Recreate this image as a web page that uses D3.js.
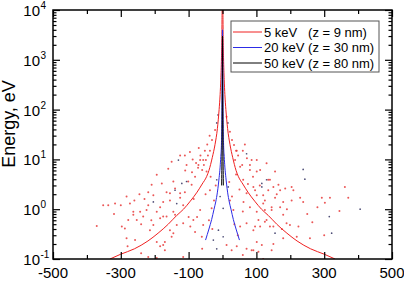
<!DOCTYPE html>
<html>
<head>
<meta charset="utf-8">
<script src="https://cdn.jsdelivr.net/npm/d3@7"></script>
<style>
  html, body { margin: 0; padding: 0; background: #fff; }
  svg { display: block; font-family: "Liberation Sans", Arial, sans-serif; }
</style>
</head>
<body>
<div id="chart"></div>
<script>
// tick labels
const xTickLabels = [-500, -300, -100, 100, 300, 500];
const xMinorTicks = [-400, -200, 0, 200, 400];
const yDecades = [-1, 0, 1, 2, 3, 4];

const seriesLabels = ["5 keV   (z = 9 nm)", "20 keV (z = 30 nm)", "50 keV (z = 80 nm)"];
const seriesColors = ["#f02020", "#2c2ce6", "#000000"];

// 5 keV curve (x in nm, energy in eV)
const redX = [-332, -300, -260, -220, -190, -160, -135, -115, -95, -75, -60, -47, -40, -30, -22, -15, -10, -7, -5, -3, -2, -1,
              1, 2, 3, 5, 7, 10, 15, 22, 30, 40, 47, 60, 75, 95, 115, 135, 160, 190, 220, 260, 300, 332];
const redE = [0.1, 0.125, 0.16, 0.23, 0.33, 0.5, 0.75, 1.0, 1.45, 2.2, 3.2, 4.5, 6, 11, 20, 42, 100, 200, 400, 1100, 2500, 10000,
              10000, 2500, 1100, 400, 200, 100, 42, 20, 11, 6, 4.5, 3.2, 2.2, 1.45, 1.0, 0.75, 0.5, 0.33, 0.23, 0.16, 0.125, 0.1];

// 20 keV curve
const blueX = [-50, -40, -32, -25, -20, -15, -12, -10, -7, -5, -3, -2, -1.5, -1, 0,
               1, 1.5, 2, 3, 5, 7, 10, 12, 15, 20, 25, 32, 40, 50];
const blueE = [0.24, 0.4, 0.62, 1.0, 1.4, 2.2, 3.2, 4.3, 7, 11.5, 22, 50, 150, 600, 4000,
               600, 150, 50, 22, 11.5, 7, 4.3, 3.2, 2.2, 1.4, 1.0, 0.62, 0.4, 0.24];

// 50 keV curve
const blackX = [-2.5, -2, -1.5, -1, -0.5, 0, 0.5, 1, 1.5, 2, 2.5];
const blackE = [3, 6, 15, 60, 400, 3000, 400, 60, 15, 6, 3];

// scattered points (x, energy)
const scatterRed = [
  [-106,7.7],[-194,4.9],[-209,3.1],[-179,3.3],[-145,3.6],[-101,3.6],[-283,1.8],[-273,1.3],[-352,1.2],[-337,1.2],
  [-317,1.3],[-219,2.2],[-204,1.9],[-165,2.2],[-125,2.1],[-111,2.2],[-175,1.4],[-155,1.5],[-116,1.2],[-219,1.2],
  [-243,0.89],[-263,0.77],[-278,0.61],[-253,0.61],[-234,0.71],[-194,0.89],[-184,0.66],[-165,0.71],[-140,0.77],[-297,0.45],
  [-371,0.46],[-288,0.41],[-204,0.48],[-214,0.38],[-155,0.38],[-135,0.48],[-283,0.26],[-258,0.24],[-194,0.22],[-150,0.28],
  [-175,0.19],[-184,0.18],[-170,0.15],[-219,0.11],[-194,0.105],[-116,0.11],[-111,12],[-263,0.89],
  [361,2.8],[371,1.7],[293,1.7],[317,1.7],[302,1.35],[345,0.92],[209,2.4],[204,2.8],[165,3.1],[170,2.4],
  [140,3.9],[111,6.1],[101,5.7],[86,9.7],[81,7.7],[91,2.8],[135,2.4],[120,1.9],[101,1.9],[155,1.7],
  [179,1.4],[204,1.5],[229,1.7],[238,1.4],[170,1.1],[145,0.96],[125,0.96],[179,0.77],[106,0.61],[125,0.56],
  [189,0.52],[199,0.48],[140,0.45],[96,0.45],[224,0.45],[179,0.26],[101,0.22],[116,0.19],[86,0.15],[106,0.14],
  [145,0.15],[120,0.10],[219,0.28],[258,0.26],
  [-125,12],[-96,14],[-71,7.7],[-57,9.7],[-47,5.7],[-81,4.5],[-91,3.1],[-140,2.6],[-155,2.1],[-125,1.7],
  [-184,1.1],[-224,0.96],[-175,0.71],[-145,0.89],[-116,0.52],[-86,0.61],[-66,0.96],[-57,0.48],[-81,0.35],[-145,0.33],
  [-170,0.22],[-61,0.28],[12,0.19],[27,0.15],[42,0.18],[71,0.16],[91,0.15],[52,0.45],[71,0.52],[91,0.38],
  [111,0.45],[130,0.61],[150,0.45],[81,1.1],[101,0.89],[120,1.3],[145,1.1],[71,2.1],[96,2.4],[135,3.9],
  [150,2.8],[61,3.9],[52,7.1],[37,9.7],[81,6.1],[101,9.7],[130,8.4],[155,5.7],[42,15],[22,1.5],
  [-32,1.04],[-37,2.4],[32,0.96],
  [-31,24.5],[-37,15],[-43,12],[-49,9.7],[-55,7.7],[-60,6.1],[28,24.5],[34,19.5],[40,15],[46,12],
  [58,7.7],[-66,9.7],[-72,6.8],[60,15],[72,10.5],[12,72],[-22,39],[22,36],
  [-90,5.5],[-78,8.5],[-65,12],[-52,15],[-45,20],[-38,30],[-110,6],[-150,9],[-160,6.5],[-230,1.6],
  [-245,2.0],[-260,1.5],[-300,1.2],[-320,0.8],[-240,0.5],[-210,0.6],[-100,0.7],[-95,0.45],[-75,0.7],[-40,0.6],
  [-30,0.4],[-25,1.5],[-20,3],[20,3.5],[28,1.8],[35,0.5],[45,0.3],[60,0.9],[62,1.4],[75,3.2],
  [90,4.5],[110,3],[125,1.5],[160,2],[175,0.4],[190,1.0],[250,0.8],[265,0.55],[280,1.1],[300,0.3],
  [-280,0.18],[-240,0.13],[-60,0.16],[60,0.12],[150,0.2],[185,2.6],[-50,2],[-85,1.6],[50,2.5],[40,5],
  [-35,4.5],[66,20],[-70,17],[-88,10]
];
const scatterDark = [
  [-130,9.7],[-120,3.3],[-140,2.4],[-135,1.3],[238,6.3],[243,4.0],[406,1.0],[315,0.71],[322,0.33],[130,3.9],
  [116,2.8],[155,0.33],[-106,3.6],[-204,1.4],[-27,0.24],[-17,0.16],[116,3.3],[71,13],[-7,1.8],[2,1.04],
  [-12,0.38],[2,0.28],[-17,3.9],[17,2.8],[-13,78],[16,54],[-17,54]
];

const W = 404, H = 281;
const plot = { left: 53, right: 392, top: 10, bottom: 259 };

const svg = d3.select("#chart").append("svg")
  .attr("width", W)
  .attr("height", H);

const x = d3.scaleLinear().domain([-500, 500]).range([plot.left, plot.right]);
const y = d3.scaleLog().domain([0.1, 1e4]).range([plot.bottom, plot.top]);

svg.append("clipPath").attr("id", "clip")
  .append("rect")
  .attr("x", plot.left).attr("y", plot.top)
  .attr("width", plot.right - plot.left).attr("height", plot.bottom - plot.top);

const data = svg.append("g").attr("clip-path", "url(#clip)");

// scatter first, curves on top
data.selectAll("circle.red")
  .data(scatterRed)
  .enter().append("circle")
  .attr("class", "red")
  .attr("cx", d => x(d[0]))
  .attr("cy", d => y(d[1]))
  .attr("r", 1)
  .attr("fill", "#e83a3a")
  .attr("opacity", 0.85);

data.selectAll("circle.dark")
  .data(scatterDark)
  .enter().append("circle")
  .attr("class", "dark")
  .attr("cx", d => x(d[0]))
  .attr("cy", d => y(d[1]))
  .attr("r", 0.85)
  .attr("fill", "#222255")
  .attr("opacity", 0.8);

const line = d3.line()
  .x(d => x(d[0]))
  .y(d => y(d[1]))
  .curve(d3.curveMonotoneX);

const curves = [
  redX.map((v, i) => [v, redE[i]]),
  blueX.map((v, i) => [v, blueE[i]]),
  blackX.map((v, i) => [v, blackE[i]])
];

curves.forEach((pts, i) => {
  data.append("path")
    .datum(pts)
    .attr("d", line)
    .attr("fill", "none")
    .attr("stroke", seriesColors[i])
    .attr("stroke-width", 1);
});

// axes: ticks point inward on all four sides
const minorY = y.ticks().filter(v => Math.abs(Math.log10(v) - Math.round(Math.log10(v))) > 1e-6);
const majorY = yDecades.map(d => Math.pow(10, d));

function tickGroup(axis, tr) {
  const g = svg.append("g").attr("transform", tr).call(axis);
  g.select(".domain").remove();
  g.selectAll("line").attr("stroke", "#000").attr("stroke-width", 1.2);
  g.selectAll("text").remove();
  return g;
}

tickGroup(d3.axisBottom(x).tickValues(xTickLabels).tickSize(-7), `translate(0,${plot.bottom})`);
tickGroup(d3.axisBottom(x).tickValues(xMinorTicks).tickSize(-4), `translate(0,${plot.bottom})`);
tickGroup(d3.axisTop(x).tickValues(xTickLabels).tickSize(-7), `translate(0,${plot.top})`);
tickGroup(d3.axisTop(x).tickValues(xMinorTicks).tickSize(-4), `translate(0,${plot.top})`);
tickGroup(d3.axisLeft(y).tickValues(majorY).tickSize(-7), `translate(${plot.left},0)`);
tickGroup(d3.axisLeft(y).tickValues(minorY).tickSize(-3.5), `translate(${plot.left},0)`);
tickGroup(d3.axisRight(y).tickValues(majorY).tickSize(-7), `translate(${plot.right},0)`);
tickGroup(d3.axisRight(y).tickValues(minorY).tickSize(-3.5), `translate(${plot.right},0)`);

// frame
svg.append("rect")
  .attr("x", plot.left).attr("y", plot.top)
  .attr("width", plot.right - plot.left).attr("height", plot.bottom - plot.top)
  .attr("fill", "none")
  .attr("stroke", "#000")
  .attr("stroke-width", 1.5);

// x tick labels
svg.selectAll("text.xlab")
  .data(xTickLabels)
  .enter().append("text")
  .attr("class", "xlab")
  .attr("x", d => x(d))
  .attr("y", 278)
  .attr("text-anchor", "middle")
  .attr("font-size", 15)
  .text(d => String(d));

// y tick labels as 10^n
const ylab = svg.selectAll("g.ylab")
  .data(yDecades)
  .enter().append("g")
  .attr("class", "ylab")
  .attr("transform", d => `translate(0,${y(Math.pow(10, d))})`);

ylab.append("text")
  .attr("x", 40)
  .attr("y", 6)
  .attr("text-anchor", "end")
  .attr("font-size", 15)
  .text("10");

ylab.append("text")
  .attr("x", 40.5)
  .attr("y", -1)
  .attr("font-size", 10)
  .text(d => String(d));

// y axis title
svg.append("text")
  .attr("transform", "translate(15,124) rotate(-90)")
  .attr("text-anchor", "middle")
  .attr("font-size", 18)
  .text("Energy, eV");

// legend
const legend = svg.append("g");
legend.append("rect")
  .attr("x", 231).attr("y", 21)
  .attr("width", 148).attr("height", 51)
  .attr("fill", "#fff")
  .attr("stroke", "#555")
  .attr("stroke-width", 1);

const rowY = [32, 47.5, 63];
seriesLabels.forEach((label, i) => {
  legend.append("line")
    .attr("x1", 233).attr("x2", 262)
    .attr("y1", rowY[i]).attr("y2", rowY[i])
    .attr("stroke", seriesColors[i])
    .attr("stroke-width", 1);
  legend.append("text")
    .attr("x", 264)
    .attr("y", rowY[i] + 4.5)
    .attr("font-size", 13)
    .style("white-space", "pre")
    .text(label);
});
</script>
</body>
</html>
